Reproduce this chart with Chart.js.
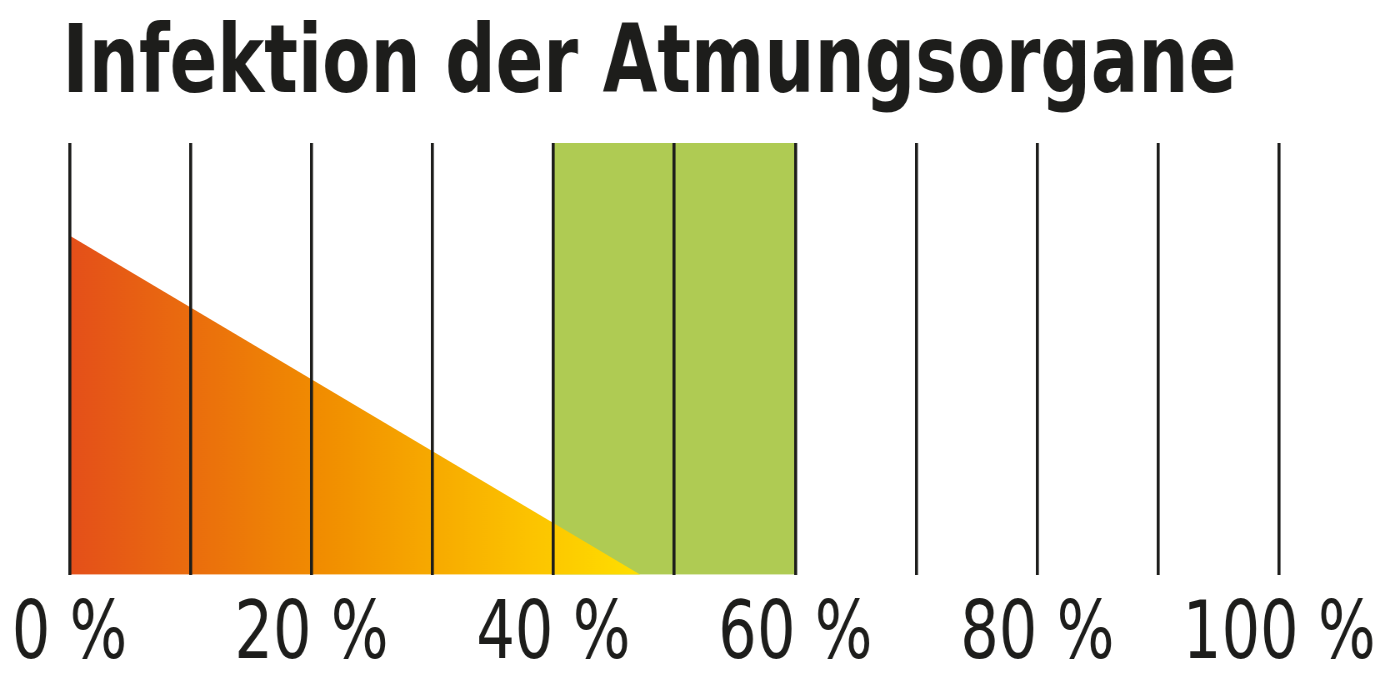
<!DOCTYPE html>
<html lang="de">
<head>
<meta charset="UTF-8">
<title>Infektion der Atmungsorgane</title>
<style>
    body, html {
        margin: 0;
        padding: 0;
        background: #ffffff;
        overflow: hidden;
    }
    .wrap {
        width: 1400px;
        height: 700px;
    }
    /* the canvas is drawn 1.2x wider and squeezed back, which narrows the lettering
       like the condensed face in the original */
    #myChart {
        display: block;
    }
</style>
</head>
<body>
<div class="wrap">
    <canvas id="myChart" width="1680" height="700" style="width:1400px;height:700px"></canvas>
</div>

<script src="https://cdn.jsdelivr.net/npm/chart.js"></script>
<script>
// --- data ---
const chartTitle = 'Infektion der Atmungsorgane';
const tickValues = [0, 10, 20, 30, 40, 50, 60, 70, 80, 90, 100];
const labeledTicks = [0, 20, 40, 60, 80, 100];
const triangleX = [0, 47.2];      // orange/yellow wedge
const triangleY = [78.6, 0];
const bandX = [40, 60];           // green range
const bandY = [100, 100];

const narrowFont = '"DejaVu Sans Condensed", "Liberation Sans Narrow", sans-serif';
const ink = '#1d1d1b';

function toPoints(xs, ys) {
    return xs.map((x, i) => ({ x: x, y: ys[i] }));
}

function wedgeGradient(context) {
    const chart = context.chart;
    if (!chart.chartArea) return '#f08a00';
    const xs = chart.scales.x;
    const x0 = xs.getPixelForValue(triangleX[0]);
    const x1 = xs.getPixelForValue(triangleX[triangleX.length - 1]);
    const g = chart.ctx.createLinearGradient(x0, 0, x1, 0);
    g.addColorStop(0, '#e44f1a');
    g.addColorStop(0.45, '#f18e00');
    g.addColorStop(0.8, '#fcc200');
    g.addColorStop(1, '#ffdf00');
    return g;
}

const ctx = document.getElementById('myChart').getContext('2d');
new Chart(ctx, {
    type: 'line',
    data: {
        datasets: [
            {
                label: 'Infektion',
                data: toPoints(triangleX, triangleY),
                borderWidth: 0,
                pointRadius: 0,
                fill: 'origin',
                backgroundColor: wedgeGradient,
                order: 1
            },
            {
                label: 'Bereich',
                data: toPoints(bandX, bandY),
                borderWidth: 0,
                pointRadius: 0,
                fill: 'origin',
                backgroundColor: '#afcb53',
                order: 2
            }
        ]
    },
    options: {
        responsive: false,
        animation: false,
        events: [],
        layout: {
            padding: { left: 75, right: 145, top: 0, bottom: 0 }
        },
        plugins: {
            legend: { display: false },
            tooltip: { enabled: false },
            title: {
                display: true,
                text: chartTitle,
                align: 'start',
                color: ink,
                font: { family: narrowFont, size: 94, weight: 'bold', lineHeight: 1.0 },
                padding: { top: 21, bottom: 28 }
            }
        },
        scales: {
            x: {
                type: 'linear',
                min: 0,
                max: 100,
                afterBuildTicks: (axis) => {
                    axis.ticks = tickValues.map(v => ({ value: v }));
                },
                ticks: {
                    autoSkip: false,
                    maxRotation: 0,
                    color: ink,
                    padding: 14,
                    font: { family: narrowFont, size: 81 },
                    callback: (v) => labeledTicks.includes(v) ? v + ' %' : ''
                },
                grid: {
                    color: ink,
                    lineWidth: 3.6,
                    drawTicks: false,
                    z: 1
                },
                border: { display: false }
            },
            y: {
                display: false,
                min: 0,
                max: 100
            }
        }
    }
});
</script>
</body>
</html>
